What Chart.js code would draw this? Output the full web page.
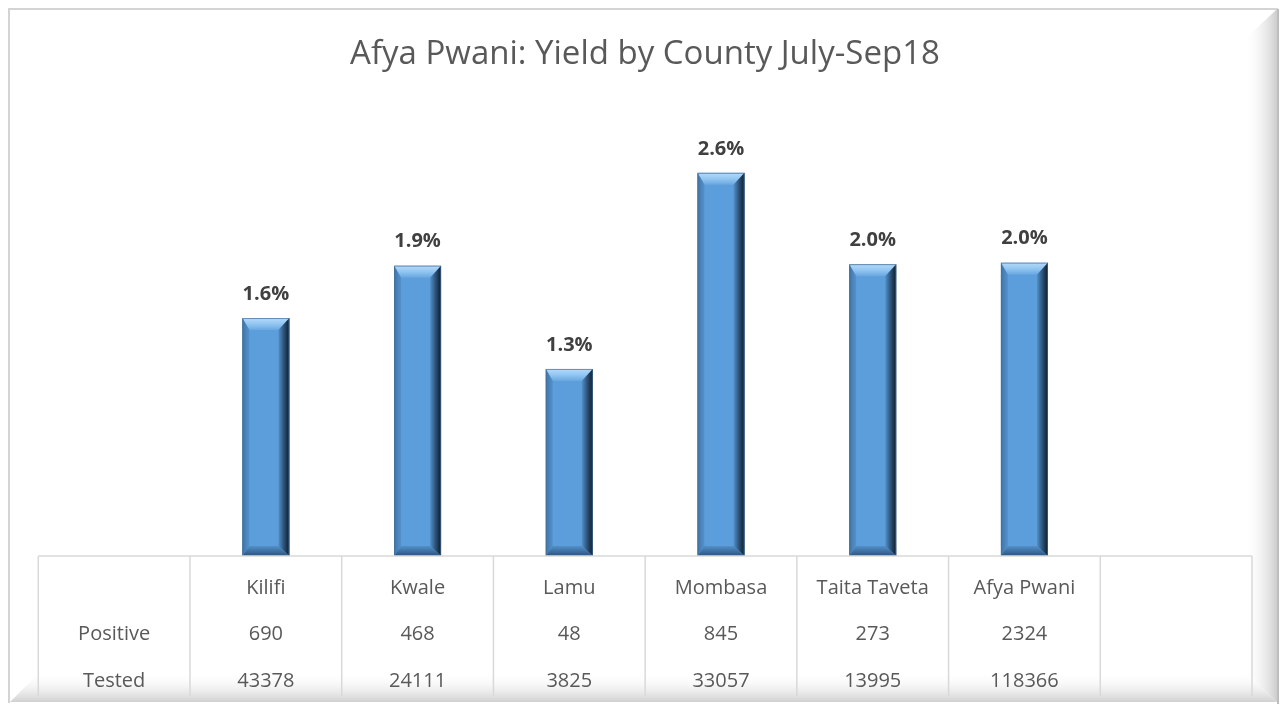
<!DOCTYPE html>
<html>
<head>
<meta charset="utf-8">
<script src="https://cdn.jsdelivr.net/npm/chart.js@4.4.1/dist/chart.umd.min.js"></script>
<style>
  html, body { margin: 0; padding: 0; background: #ffffff; }
  #wrap { width: 1281px; height: 704px; position: relative; }
</style>
</head>
<body>
<div id="wrap"><canvas id="grafico" width="1281" height="704"></canvas></div>
<script>
// dados
const titulo = "Afya Pwani: Yield by County July-Sep18";
const condados = ["Kilifi", "Kwale", "Lamu", "Mombasa", "Taita Taveta", "Afya Pwani", ""];
const rendimento = [1.59, 1.94, 1.25, 2.56, 1.95, 1.96, null];
const rotulos = ["1.6%", "1.9%", "1.3%", "2.6%", "2.0%", "2.0%", ""];
const positivos = ["690", "468", "48", "845", "273", "2324", ""];
const testados = ["43378", "24111", "3825", "33057", "13995", "118366", ""];
const linhasTabela = ["Positive", "Tested"];

const FONTE = "'Open Sans', 'Noto Sans', sans-serif";

/* =========================
   MOLDURA (efeito bisel) + TÍTULO
========================= */
const moldura = {
  id: "moldura",
  beforeDraw(chart) {
    const ctx = chart.ctx;
    ctx.save();
    ctx.fillStyle = "#ffffff";
    ctx.fillRect(0, 0, 1281, 704);

    // borda direita
    let g = ctx.createLinearGradient(1244, 0, 1277, 0);
    g.addColorStop(0, "rgba(255,255,255,0)");
    g.addColorStop(1, "rgba(205,205,205,1)");
    ctx.fillStyle = g;
    ctx.beginPath();
    ctx.moveTo(1244, 40);
    ctx.lineTo(1277, 9);
    ctx.lineTo(1277, 702);
    ctx.lineTo(1244, 672);
    ctx.closePath();
    ctx.fill();

    // borda inferior
    g = ctx.createLinearGradient(0, 672, 0, 702);
    g.addColorStop(0, "rgba(255,255,255,0)");
    g.addColorStop(1, "rgba(208,208,208,1)");
    ctx.fillStyle = g;
    ctx.beginPath();
    ctx.moveTo(10, 702);
    ctx.lineTo(40, 672);
    ctx.lineTo(1244, 672);
    ctx.lineTo(1277, 702);
    ctx.closePath();
    ctx.fill();

    ctx.strokeStyle = "#d4d4d4";
    ctx.lineWidth = 2;
    ctx.beginPath();
    ctx.moveTo(9, 703);
    ctx.lineTo(9, 9);
    ctx.lineTo(1278, 9);
    ctx.stroke();
    ctx.strokeStyle = "#bdbdbd";
    ctx.beginPath();
    ctx.moveTo(1278, 9);
    ctx.lineTo(1278, 704);
    ctx.stroke();

    // título
    ctx.fillStyle = "#595959";
    ctx.font = "33px " + FONTE;
    ctx.textAlign = "center";
    ctx.textBaseline = "middle";
    ctx.fillText(titulo, 645, 55);
    ctx.restore();
  }
};

/* =========================
   BARRAS COM BISEL
========================= */
const bisel = {
  id: "bisel",
  afterDatasetsDraw(chart) {
    const ctx = chart.ctx;
    const meta = chart.getDatasetMeta(0);
    meta.data.forEach((el, i) => {
      if (rendimento[i] == null) return;
      const p = el.getProps(["x", "y", "base", "width"], true);
      const x0 = p.x - p.width / 2, x1 = p.x + p.width / 2;
      const y0 = p.y, y1 = p.base;
      const bt = 12, bl = 7, br = 11, bb = 10;
      ctx.save();

      // topo
      let g = ctx.createLinearGradient(0, y0, 0, y0 + bt);
      g.addColorStop(0, "#b6daf8");
      g.addColorStop(0.5, "#92c6f2");
      g.addColorStop(1, "#68a7e0");
      ctx.fillStyle = g;
      ctx.beginPath();
      ctx.moveTo(x0, y0); ctx.lineTo(x1, y0); ctx.lineTo(x1 - br, y0 + bt); ctx.lineTo(x0 + bl, y0 + bt);
      ctx.closePath(); ctx.fill();

      // lado esquerdo
      g = ctx.createLinearGradient(x0, 0, x0 + bl, 0);
      g.addColorStop(0, "#3e75aa");
      g.addColorStop(1, "#5592ca");
      ctx.fillStyle = g;
      ctx.beginPath();
      ctx.moveTo(x0, y0); ctx.lineTo(x0 + bl, y0 + bt); ctx.lineTo(x0 + bl, y1 - bb); ctx.lineTo(x0, y1);
      ctx.closePath(); ctx.fill();

      // lado direito
      g = ctx.createLinearGradient(x1 - br, 0, x1, 0);
      g.addColorStop(0, "#5290c8");
      g.addColorStop(0.5, "#2c5278");
      g.addColorStop(1, "#0e1b29");
      ctx.fillStyle = g;
      ctx.beginPath();
      ctx.moveTo(x1, y0); ctx.lineTo(x1, y1); ctx.lineTo(x1 - br, y1 - bb); ctx.lineTo(x1 - br, y0 + bt);
      ctx.closePath(); ctx.fill();

      // base
      g = ctx.createLinearGradient(0, y1 - bb, 0, y1);
      g.addColorStop(0, "#5390c8");
      g.addColorStop(1, "#2a5480");
      ctx.fillStyle = g;
      ctx.beginPath();
      ctx.moveTo(x0, y1); ctx.lineTo(x1, y1); ctx.lineTo(x1 - br, y1 - bb); ctx.lineTo(x0 + bl, y1 - bb);
      ctx.closePath(); ctx.fill();

      ctx.strokeStyle = "rgba(70,110,150,0.7)";
      ctx.lineWidth = 1;
      ctx.strokeRect(x0 + 0.5, y0 + 0.5, p.width - 1, y1 - y0 - 1);

      // rótulo de valor
      ctx.fillStyle = "#404040";
      ctx.font = "bold 20px " + FONTE;
      ctx.textAlign = "center";
      ctx.textBaseline = "middle";
      ctx.fillText(rotulos[i], p.x, y0 - 24);
      ctx.restore();
    });
  }
};

/* =========================
   TABELA DE DADOS
========================= */
const tabela = {
  id: "tabela",
  afterDraw(chart) {
    const ctx = chart.ctx;
    const xs = chart.scales.x;
    const area = chart.chartArea;
    const passo = xs.getPixelForValue(1) - xs.getPixelForValue(0);
    const topo = area.bottom;
    const fim = 696;
    const esquerda = area.left - passo;
    ctx.save();
    ctx.strokeStyle = "#d9d9d9";
    ctx.lineWidth = 1.5;
    ctx.beginPath();
    ctx.moveTo(esquerda, topo);
    ctx.lineTo(area.right, topo);
    for (let k = 0; k <= condados.length + 1; k++) {
      const x = esquerda + k * passo;
      ctx.moveTo(x, topo);
      ctx.lineTo(x, fim);
    }
    ctx.stroke();

    ctx.fillStyle = "#595959";
    ctx.font = "20px " + FONTE;
    ctx.textAlign = "center";
    ctx.textBaseline = "middle";
    const yCat = 588, yPos = 634, yTest = 681;
    ctx.fillText(linhasTabela[0], esquerda + passo / 2, yPos);
    ctx.fillText(linhasTabela[1], esquerda + passo / 2, yTest);
    condados.forEach((c, i) => {
      const x = xs.getPixelForValue(i);
      ctx.fillText(c, x, yCat);
      ctx.fillText(positivos[i], x, yPos);
      ctx.fillText(testados[i], x, yTest);
    });
    ctx.restore();
  }
};

/* =========================
   GRÁFICO
========================= */
const ctx = document.getElementById("grafico").getContext("2d");
new Chart(ctx, {
  type: "bar",
  data: {
    labels: condados,
    datasets: [{
      label: "Yield",
      data: rendimento,
      backgroundColor: "#5c9ddb",
      borderWidth: 0,
      categoryPercentage: 1,
      barPercentage: 0.31
    }]
  },
  options: {
    responsive: false,
    animation: false,
    layout: { padding: { left: 190, right: 29, top: 107, bottom: 148 } },
    plugins: {
      legend: { display: false },
      tooltip: { enabled: false },
      title: { display: false }
    },
    scales: {
      x: { display: false },
      y: { display: false, min: 0, max: 3 }
    }
  },
  plugins: [moldura, bisel, tabela]
});
</script>
</body>
</html>
